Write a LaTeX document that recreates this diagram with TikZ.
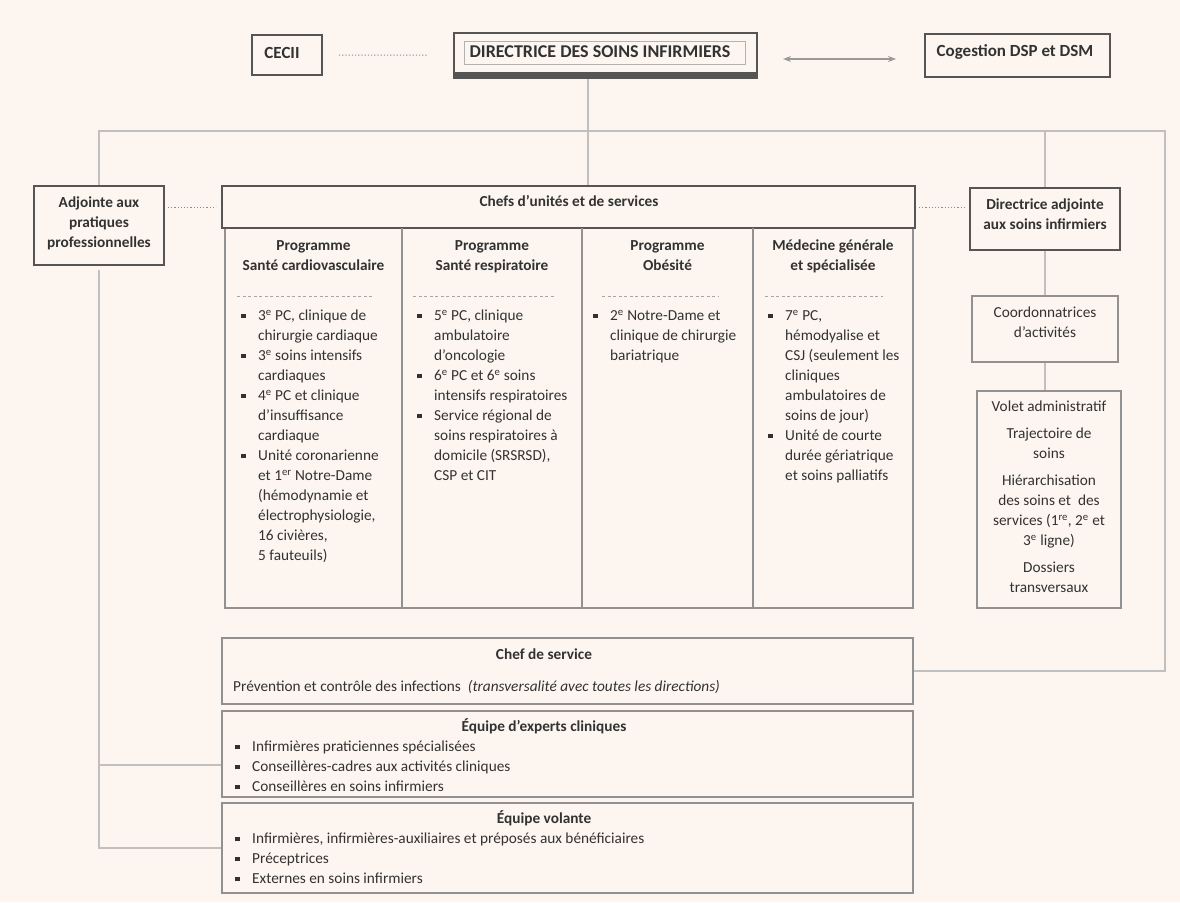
\documentclass[tikz,border=0pt]{standalone}
\usepackage{fontspec}
\setmainfont{Carlito}
\usetikzlibrary{arrows.meta,positioning}
\definecolor{fond}{RGB}{253,246,240}
\definecolor{encre}{RGB}{50,50,50}
\definecolor{cadre}{RGB}{85,85,85}
\definecolor{cadreclair}{RGB}{145,145,145}
\definecolor{trait}{RGB}{192,192,192}
\newcommand{\up}[1]{\textsuperscript{#1}}
\newcommand{\bul}{\makebox[17pt][l]{\raisebox{2.3pt}{\rule{4.3pt}{4.3pt}}}}
\newcommand{\ind}{\hspace*{17pt}}
\tikzset{%
    txt/.style={text=encre, inner sep=0pt, font=\fontsize{15.3}{20}\selectfont},
    btxt/.style={txt, font=\fontsize{15.3}{20}\selectfont\bfseries},
    htxt/.style={txt, font=\fontsize{17}{20}\selectfont\bfseries},
    fort/.style={draw=cadre, line width=2pt, fill=fond, inner sep=0pt},
    clair/.style={draw=cadreclair, line width=1.4pt, fill=fond, inner sep=0pt},
    con/.style={draw=trait, line width=1.2pt},
    pts/.style={draw=black!45, line width=1pt, dash pattern=on 1.2pt off 2pt},
    tir/.style={draw=black!35, line width=0.8pt, dash pattern=on 3pt off 2.5pt},
    dar/.style={draw=black!40, line width=1.5pt, {Stealth[length=8pt,width=6pt]}-{Stealth[length=8pt,width=6pt]}},
}
\begin{document}
\begin{tikzpicture}[x=1pt,y=-1pt]
    \fill[fond] (0,0) rectangle (1180,902);
    \useasboundingbox (0,0) rectangle (1180,902);
    % direction
    \node[fort, minimum width=70pt, minimum height=40pt] (cecii) at (287,55) {};
    \node[fort, minimum width=303pt, minimum height=45pt] (dsi) at (605.5,55.5) {};
    \node[fort, minimum width=185pt, minimum height=43pt] (cog) at (1017.5,55.5) {};
    \fill[cadre] ([shift={(0,-7)}]dsi.south west) rectangle (dsi.south east);
    \draw[black!30, line width=0.7pt] ([shift={(11,9)}]dsi.north west) rectangle ([shift={(-13,-15)}]dsi.south east);
    \node[htxt, anchor=base] (cecii-t) at (282,58.5) {CECII};
    \node[htxt, font=\fontsize{18}{22}\selectfont\bfseries, anchor=base] (dsi-t) at (600,57.8) {DIRECTRICE DES SOINS INFIRMIERS};
    \node[htxt, anchor=base] (cog-t) at (1015,56) {Cogestion DSP et DSM};
    % cadres
    \node[fort, minimum width=130pt, minimum height=79pt] (adj) at (99,225.5) {};
    \node[clair, minimum width=688pt, minimum height=380pt] (cols) at (569,418) {};
    \node[fort, minimum width=693pt, minimum height=42pt] (chefs) at (568.5,207) {};
    \node[fort, minimum width=150pt, minimum height=62pt] (dadj) at (1045,219) {};
    \node[clair, minimum width=146pt, minimum height=66pt] (coord) at (1045,329) {};
    \node[clair, minimum width=144pt, minimum height=217pt] (volet) at (1049,499.5) {};
    \node[clair, minimum width=691pt, minimum height=66pt] (chefserv) at (567.5,671) {};
    \node[clair, minimum width=691pt, minimum height=86pt] (experts) at (567.5,754) {};
    \node[clair, minimum width=691pt, minimum height=90pt] (volante) at (567.5,848) {};
    \foreach \x in {402,582,753} \draw[draw=cadreclair, line width=1.4pt] (\x,228) -- (\x,608);
    \foreach \a/\b in {237/372,413/555,602/718,765/883} \draw[tir] (\a,296) -- (\b,296);
    % liens
    \coordinate (nd) at (588,131);
    \coordinate (ne) at (1165,131);
    \draw[pts, shorten <=16pt, shorten >=26pt] (cecii) -- (dsi);
    \draw[dar, shorten <=25pt, shorten >=28pt] ([yshift=-3.5pt]dsi.east) -- ([yshift=-3.5pt]cog.west);
    \draw[con] (dsi.south -| nd) -- (chefs.north -| nd);
    \draw[con] (adj.north) |- (ne) |- (chefserv.east);
    \draw[con] (dadj.north) -- (dadj.north |- ne);
    \draw[con] (dadj) -- (coord);
    \draw[con] (coord.south) -- (coord.south |- volet.north);
    \draw[con, shorten <=4pt] (adj.south) -- (adj.south |- volante.west) -- (volante.west);
    \draw[con] (adj.south |- experts.west) ++(0,11) -- ([yshift=-11pt]experts.west);
    \draw[pts, shorten <=3pt, shorten >=5pt] (adj.east |- chefs.west) -- (chefs.west);
    \draw[pts, shorten <=3pt, shorten >=3pt] (chefs.east) -- (chefs.east -| dadj.west);
    % textes
    \node[btxt, anchor=base] (chefs-t) at (569,206.5) {Chefs d’unités et de services};
    \node[btxt, align=center, anchor=north] (adj-t) at (99,193.5) {\strut Adjointe aux\\pratiques\\professionnelles};
    \node[btxt, align=center, anchor=north] (dadj-t) at (1045,195.5) {\strut Directrice adjointe\\aux soins infirmiers};
    \node[txt, align=center, anchor=north] (coord-t) at (1045,303.5) {\strut Coordonnatrices\\d’activités};
    \node[txt, align=center, anchor=north] (volet-t) at (1049,397.5) {\strut Volet administratif\\[7pt]
        Trajectoire de\\soins\\[7pt]
        Hiérarchisation\\des soins et~ des\\services (1\up{re}, 2\up{e} et\\3\up{e} ligne)\\[7pt]
        Dossiers\\transversaux};
    \foreach \x/\a/\b [count=\i] in {313.5/Programme/Santé cardiovasculaire,492/Programme/Santé respiratoire,667.5/Programme/Obésité,833/Médecine générale/et spécialisée}
        \node[btxt, align=center, anchor=north] (prog\i) at (\x,236.5) {\strut\a\\\b};
    \node[txt, align=left, anchor=north west] (liste1) at (241,306.5) {\strut\bul 3\up{e} PC, clinique de\\
        \ind chirurgie cardiaque\\
        \bul 3\up{e} soins intensifs\\
        \ind cardiaques\\
        \bul 4\up{e} PC et clinique\\
        \ind d’insuffisance\\
        \ind cardiaque\\
        \bul Unité coronarienne\\
        \ind et 1\up{er} Notre-Dame\\
        \ind (hémodynamie et\\
        \ind électrophysiologie,\\
        \ind 16 civières,\\
        \ind 5 fauteuils)};
    \node[txt, align=left, anchor=north west] (liste2) at (417,306.5) {\strut\bul 5\up{e} PC, clinique\\
        \ind ambulatoire\\
        \ind d’oncologie\\
        \bul 6\up{e} PC et 6\up{e} soins\\
        \ind intensifs respiratoires\\
        \bul Service régional de\\
        \ind soins respiratoires à\\
        \ind domicile (SRSRSD),\\
        \ind CSP et CIT};
    \node[txt, align=left, anchor=north west] (liste3) at (593,306.5) {\strut\bul 2\up{e} Notre-Dame et\\
        \ind clinique de chirurgie\\
        \ind bariatrique};
    \node[txt, align=left, anchor=north west] (liste4) at (768,306.5) {\strut\bul 7\up{e} PC,\\
        \ind hémodyalise et\\
        \ind CSJ (seulement les\\
        \ind cliniques\\
        \ind ambulatoires de\\
        \ind soins de jour)\\
        \bul Unité de courte\\
        \ind durée gériatrique\\
        \ind et soins palliatifs};
    \node[btxt, anchor=base] (chefserv-t) at (544,659.5) {Chef de service};
    \node[txt, anchor=base west] (pci) at (233,691.5) {Prévention et contrôle des infections~ \textit{(transversalité avec toutes les directions)}};
    \node[btxt, anchor=base] (experts-t) at (544,731.5) {Équipe d’experts cliniques};
    \node[txt, align=left, anchor=north west] (experts-l) at (235,737.5) {\strut\bul Infirmières praticiennes spécialisées\\
        \bul Conseillères-cadres aux activités cliniques\\
        \bul Conseillères en soins infirmiers};
    \node[btxt, anchor=base] (volante-t) at (544,823.5) {Équipe volante};
    \node[txt, align=left, anchor=north west] (volante-l) at (235,829.5) {\strut\bul Infirmières, infirmières-auxiliaires et préposés aux bénéficiaires\\
        \bul Préceptrices\\
        \bul Externes en soins infirmiers};
\end{tikzpicture}
\end{document}
